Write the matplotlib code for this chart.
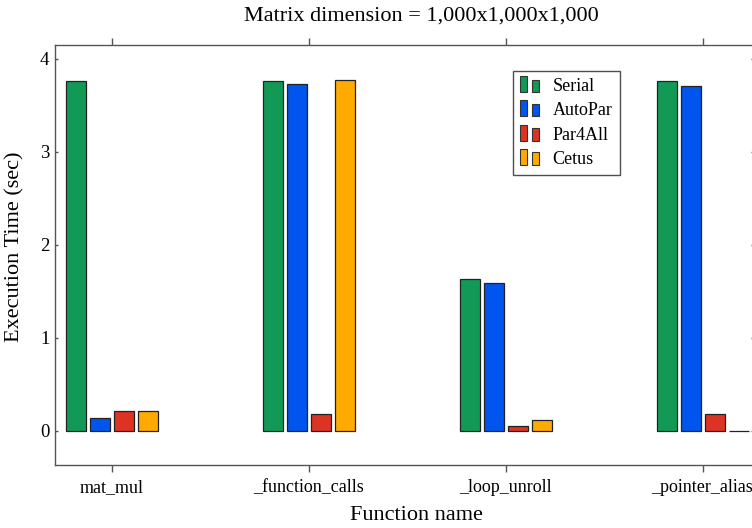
import matplotlib
matplotlib.use("Agg")
import matplotlib.pyplot as plt
from matplotlib.patches import Rectangle
from matplotlib.legend_handler import HandlerBase
import numpy as np

plt.rcParams['font.family'] = ['Liberation Serif', 'DejaVu Serif']

categories = ["mat_mul", "_function_calls", "_loop_unroll", "_pointer_alias"]
series_names = ["Serial", "AutoPar", "Par4All", "Cetus"]
serial = [3.76, 3.76, 1.63, 3.76]
autopar = [0.14, 3.73, 1.59, 3.71]
par4all = [0.21, 0.18, 0.05, 0.18]
cetus = [0.215, 3.77, 0.12, 0.0]
colors = ["#119955", "#0055EE", "#DD3322", "#FFAA00"]
yticks = [0, 1, 2, 3, 4]
title = "Matrix dimension = 1,000x1,000x1,000"

W, H = 752, 528
fig = plt.figure(figsize=(W / 100, H / 100), dpi=100)
left_px, right_px, top_px, bot_px = 55, 754, 45, 465
ax = fig.add_axes([left_px / W, 1 - bot_px / H, (right_px - left_px) / W, (bot_px - top_px) / H])

x = np.arange(len(categories))
pitch = 24 / 197
width = 20 / 197
data = [serial, autopar, par4all, cetus]
for k, (vals, c) in enumerate(zip(data, colors)):
    offs = (k - 1.5) * pitch
    ax.bar(x + offs, vals, width=width, color=c, edgecolor="#222222", linewidth=0.9, zorder=3)

c0 = 111.5
ax.set_xlim((left_px - c0) / 197, (right_px - c0) / 197)
ax.set_ylim(-0.366, 4.15)
ax.set_xticks(x)
ax.set_xticklabels(categories, fontsize=13)
ax.set_yticks(yticks)
ax.set_yticklabels([str(v) for v in yticks], fontsize=13.5)

gray = "#555555"
for s in ax.spines.values():
    s.set_color(gray)
    s.set_linewidth(1.0)
ax.tick_params(axis='x', which='both', top=True, bottom=True, direction='out', length=5, color=gray, width=1, pad=5)
ax.tick_params(axis='y', which='both', left=True, right=False, direction='out', length=5, color=gray, width=1, pad=4)
ax.tick_params(axis='y', which='both', right=True, direction='in', length=2.2, color=gray)

fig.text(416 / W, 1 - 515 / H, "Function name", ha='center', va='center', fontsize=16)
fig.text(15 / W, 1 - 247 / H, "Execution Time (sec)", ha='center', va='center', rotation=90, fontsize=16)
fig.text(421 / W, 1 - 16 / H, title, ha='center', va='center', fontsize=16)


class TwoRectHandler(HandlerBase):
    def create_artists(self, legend, orig_handle, xdescent, ydescent, width, height, fontsize, trans):
        col = orig_handle.get_facecolor()
        r1 = Rectangle((-xdescent, -ydescent - 1), width * 0.37, height + 3.0, facecolor=col,
                       edgecolor="#333333", linewidth=0.8, transform=trans)
        r2 = Rectangle((-xdescent + width * 0.63, -ydescent - 1), width * 0.36, height + 0.6,
                       facecolor=col, edgecolor="#333333", linewidth=0.8, transform=trans)
        return [r1, r2]


handles = [Rectangle((0, 0), 1, 1, facecolor=c) for c in colors]
leg = ax.legend(handles, series_names, handler_map={Rectangle: TwoRectHandler()},
                loc='upper left', bbox_to_anchor=((513 - left_px) / (right_px - left_px), 1 - (71 - top_px) / (bot_px - top_px)),
                fontsize=13, frameon=True, fancybox=False, handlelength=1.05, handleheight=0.62,
                handletextpad=0.75, labelspacing=0.4, borderpad=0.4, borderaxespad=0)
leg.get_frame().set_edgecolor("#222222")
leg.get_frame().set_linewidth(1.0)

fig.savefig("out.png", dpi=100)
